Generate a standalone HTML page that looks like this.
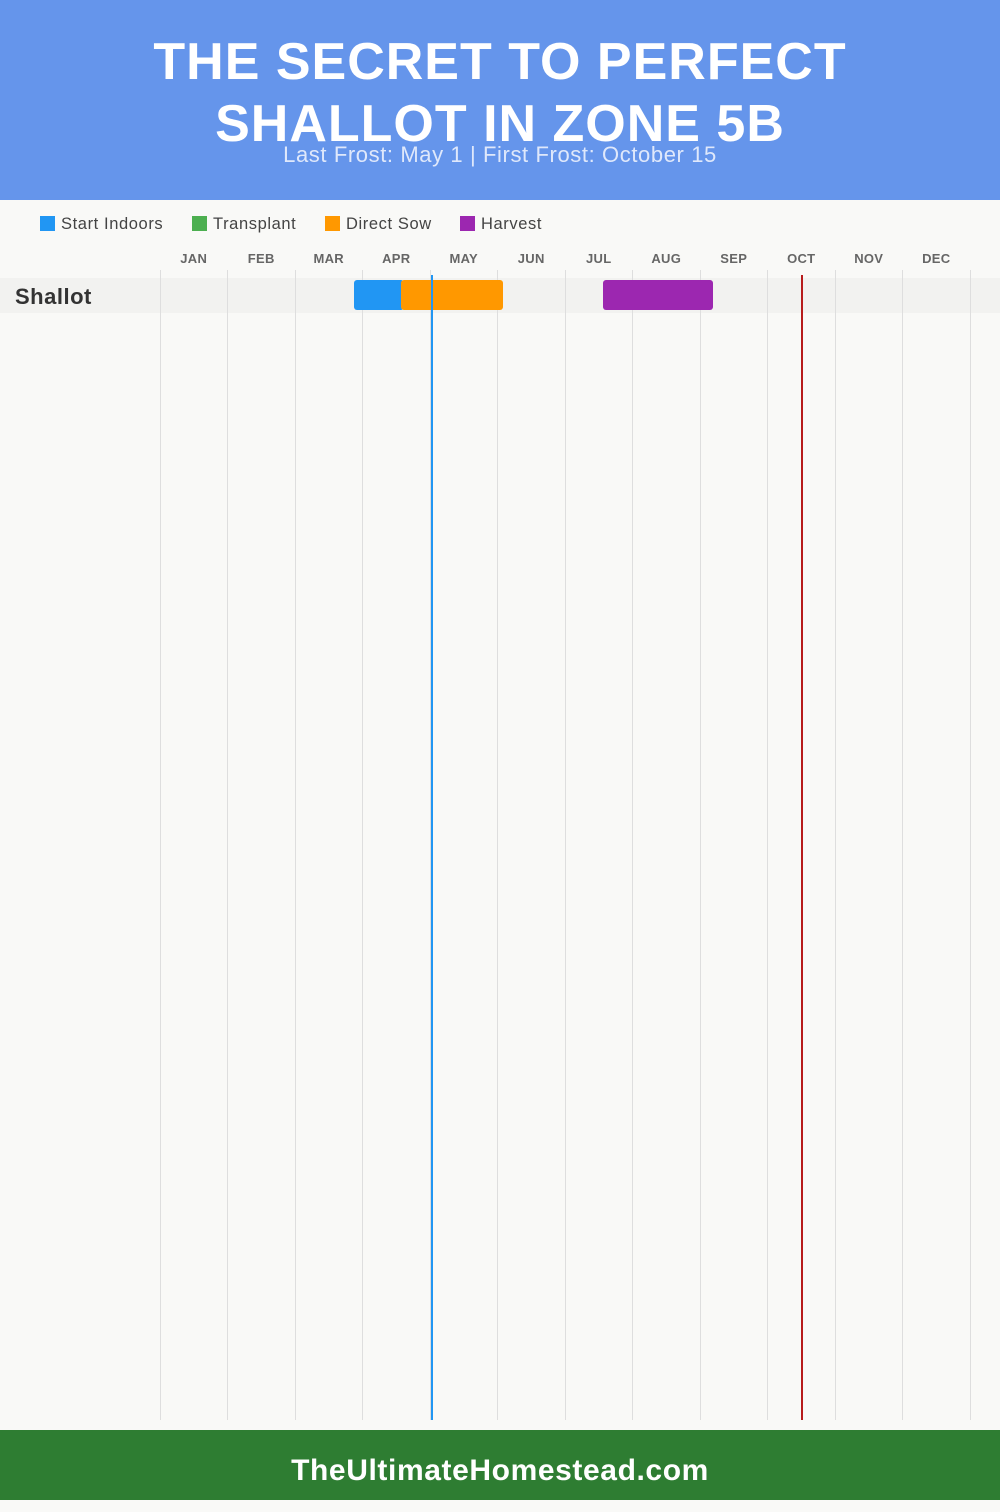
<!DOCTYPE html>
<html><head><style>
body{margin:0;width:1000px;height:1500px;background:#f9f9f7;font-family:"Liberation Sans",sans-serif;position:relative;overflow:hidden}
.hdr{position:absolute;left:0;top:0;width:1000px;height:200px;background:#6595eb}
.t{position:absolute;left:0;width:1000px;text-align:center;color:#fff;font-weight:900;font-size:52px;letter-spacing:1px}
.sub{position:absolute;left:0;width:1000px;top:142px;text-align:center;color:#dfe8fb;font-size:22px;letter-spacing:0.6px}
.leg{position:absolute;top:215px;font-size:16.5px;color:#444;letter-spacing:0.6px}
.leg i{display:inline-block;width:15px;height:15px;vertical-align:-2px;margin-right:6px}
.m{position:absolute;top:251px;width:67.5px;text-align:center;font-size:13px;font-weight:bold;color:#666;letter-spacing:0.3px}
.g{position:absolute;top:270px;height:1150px;width:1px;background:#dedede}
.bar{position:absolute;top:280px;height:30px;border-radius:3px}
.ftr{position:absolute;left:0;top:1430px;width:1000px;height:70px;background:#2e7d32;color:#fff;font-weight:bold;font-size:30px;letter-spacing:0.6px;text-align:center;line-height:82px}
</style></head><body>
<div class="hdr"></div>
<div class="t" style="top:32px">THE SECRET TO PERFECT</div>
<div class="t" style="top:94px">SHALLOT IN ZONE 5B</div>
<div class="sub">Last Frost: May 1 | First Frost: October 15</div>
<div class="leg" style="left:40px"><i style="background:#2196f3"></i>Start Indoors</div>
<div class="leg" style="left:192px"><i style="background:#4caf50"></i>Transplant</div>
<div class="leg" style="left:325px"><i style="background:#ff9800"></i>Direct Sow</div>
<div class="leg" style="left:460px"><i style="background:#9c27b0"></i>Harvest</div>
<div class="m" style="left:160px">JAN</div><div class="m" style="left:227.5px">FEB</div><div class="m" style="left:295px">MAR</div><div class="m" style="left:362.5px">APR</div><div class="m" style="left:430px">MAY</div><div class="m" style="left:497.5px">JUN</div><div class="m" style="left:565px">JUL</div><div class="m" style="left:632.5px">AUG</div><div class="m" style="left:700px">SEP</div><div class="m" style="left:767.5px">OCT</div><div class="m" style="left:835px">NOV</div><div class="m" style="left:902.5px">DEC</div>
<div style="position:absolute;left:0;top:278px;width:1000px;height:35px;background:#f2f2f0"></div>
<div class="g" style="left:160px"></div><div class="g" style="left:227px"></div><div class="g" style="left:295px"></div><div class="g" style="left:362px"></div><div class="g" style="left:430px"></div><div class="g" style="left:497px"></div><div class="g" style="left:565px"></div><div class="g" style="left:632px"></div><div class="g" style="left:700px"></div><div class="g" style="left:767px"></div><div class="g" style="left:835px"></div><div class="g" style="left:902px"></div><div class="g" style="left:970px"></div>
<div style="position:absolute;left:15px;top:284px;font-size:22px;font-weight:bold;color:#333;letter-spacing:0.5px">Shallot</div>
<div class="bar" style="left:354px;width:50px;background:#2196f3"></div>
<div class="bar" style="left:401px;width:102px;background:#ff9800"></div>
<div class="bar" style="left:603px;width:110px;background:#9c27b0"></div>
<div style="position:absolute;left:431px;top:275px;width:2px;height:1145px;background:#2196f3"></div>
<div style="position:absolute;left:801px;top:275px;width:2px;height:1145px;background:#b71c1c"></div>
<div class="ftr">TheUltimateHomestead.com</div>
</body></html>
